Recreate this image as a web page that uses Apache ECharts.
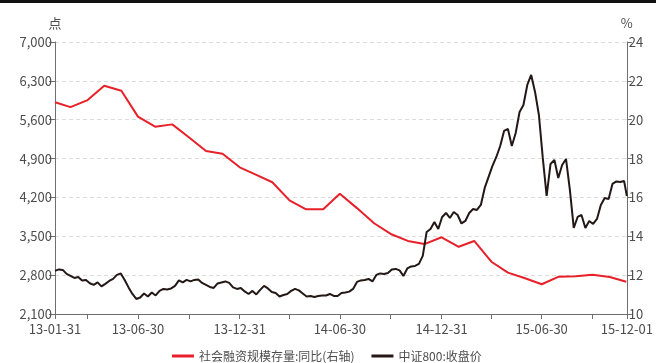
<!DOCTYPE html>
<html>
<head>
<meta charset="utf-8">
<script src="https://cdn.jsdelivr.net/npm/echarts@6/dist/echarts.min.js"></script>
<style>
  html, body { margin: 0; padding: 0; background: #fff; }
  #chart { width: 656px; height: 363px; }
</style>
</head>
<body>
<div id="chart"></div>
<script>
// 社会融资规模存量同比 (%), month-end values, right axis
const tsfDates = [
  '2013-01-31','2013-02-28','2013-03-31','2013-04-30','2013-05-31','2013-06-30',
  '2013-07-31','2013-08-31','2013-09-30','2013-10-31','2013-11-30','2013-12-31',
  '2014-01-31','2014-02-28','2014-03-31','2014-04-30','2014-05-31','2014-06-30',
  '2014-07-31','2014-08-31','2014-09-30','2014-10-31','2014-11-30','2014-12-31',
  '2015-01-31','2015-02-28','2015-03-31','2015-04-30','2015-05-31','2015-06-30',
  '2015-07-31','2015-08-31','2015-09-30','2015-10-31','2015-11-30'
];
const tsfYoY = [
  20.90, 20.65, 21.01, 21.75, 21.49, 20.16,
  19.64, 19.76, 19.10, 18.39, 18.25, 17.55,
  17.15, 16.78, 15.85, 15.39, 15.39, 16.19,
  15.45, 14.67, 14.12, 13.76, 13.60, 13.95,
  13.46, 13.76, 12.69, 12.13, 11.84, 11.53,
  11.92, 11.94, 12.02, 11.90, 11.66
];

// 中证800 closing level, weekly from 2013-01-31, last point on 2015-12-01
const csi800Start = '2013-01-31';
const csi800End = '2015-12-01';
const csi800Close = [
  2876, 2903, 2894, 2822, 2786, 2750, 2768, 2705, 2714, 2654,
  2624, 2669, 2597, 2642, 2696, 2732, 2804, 2831, 2714, 2579,
  2461, 2371, 2398, 2470, 2416, 2488, 2434, 2516, 2552, 2543,
  2561, 2606, 2705, 2669, 2714, 2687, 2714, 2723, 2660, 2624,
  2588, 2570, 2651, 2669, 2687, 2660, 2579, 2552, 2570, 2507,
  2461, 2516, 2452, 2534, 2606, 2561, 2497, 2479, 2416, 2443,
  2461, 2516, 2552, 2525, 2470, 2416, 2425, 2407, 2425, 2434,
  2434, 2461, 2425, 2425, 2479, 2488, 2503, 2552, 2678, 2705,
  2714, 2732, 2687, 2804, 2831, 2822, 2840, 2903, 2912, 2885,
  2786, 2921, 2957, 2966, 3002, 3146, 3578, 3632, 3758, 3632,
  3848, 3920, 3830, 3938, 3884, 3731, 3776, 3920, 3992, 3974,
  4064, 4371, 4569, 4767, 4929, 5127, 5397, 5433, 5127, 5361,
  5739, 5865, 6226, 6406, 6100, 5685, 4911, 4226, 4803, 4875,
  4551, 4785, 4893, 4335, 3650, 3848, 3884, 3650, 3776, 3722,
  3812, 4064, 4190, 4172, 4443, 4488, 4479, 4497, 4226
];

// x-axis ticks (quarter ends) and the subset that carries labels
const tickDates = [
  '2013-01-31','2013-03-31','2013-06-30','2013-09-30','2013-12-31',
  '2014-03-31','2014-06-30','2014-09-30','2014-12-31',
  '2015-03-31','2015-06-30','2015-09-30','2015-12-01'
];
const labelDates = [
  '2013-01-31','2013-06-30','2013-12-31','2014-06-30',
  '2014-12-31','2015-06-30','2015-12-01'
];

const leftTicks = { min: 2100, max: 7000, step: 700 };
const rightTicks = { min: 10, max: 24, step: 2 };

function toTime(s) {
  const p = s.split('-').map(Number);
  return Date.UTC(p[0], p[1] - 1, p[2]);
}
function fmtDate(t) {
  const d = new Date(t);
  const pad = n => (n < 10 ? '0' : '') + n;
  return pad(d.getUTCFullYear() % 100) + '-' + pad(d.getUTCMonth() + 1) + '-' + pad(d.getUTCDate());
}

const DAY = 86400000;
const t0 = toTime(csi800Start);
const csi800Data = csi800Close.map((v, i) =>
  [i === csi800Close.length - 1 ? toTime(csi800End) : t0 + i * 7 * DAY, v]);
const tsfData = tsfDates.map((d, i) => [toTime(d), tsfYoY[i]]);

const FONT = '"Noto Sans CJK SC", "Noto Sans", sans-serif';
const AXIS_COLOR = '#6e6e6e';
const TEXT_COLOR = '#4d4d4d';

const chart = echarts.init(document.getElementById('chart'), null, { renderer: 'canvas' });
chart.setOption({
  animation: false,
  backgroundColor: '#fff',
  textStyle: { fontFamily: FONT },
  graphic: [{
    type: 'rect', left: 0, top: 0,
    shape: { width: 656, height: 3 },
    style: { fill: '#111' }
  }],
  grid: { left: 55, right: 26, top: 42, bottom: 49 },
  legend: {
    left: 167, top: 345,
    icon: 'rect', itemWidth: 22, itemHeight: 3, itemGap: 17,
    textStyle: { fontFamily: FONT, fontSize: 12, color: TEXT_COLOR },
    data: ['社会融资规模存量:同比(右轴)', '中证800:收盘价']
  },
  xAxis: {
    type: 'value',
    min: toTime(csi800Start),
    max: toTime(csi800End),
    splitLine: { show: false },
    axisLine: { show: true, lineStyle: { color: AXIS_COLOR, width: 1 } },
    axisTick: {
      show: true, length: 5, inside: false,
      customValues: tickDates.map(toTime),
      lineStyle: { color: AXIS_COLOR }
    },
    axisLabel: {
      customValues: labelDates.map(toTime),
      formatter: v => fmtDate(v),
      margin: 9, fontSize: 13, color: TEXT_COLOR, fontFamily: FONT,
      showMinLabel: true, showMaxLabel: true, hideOverlap: false
    }
  },
  yAxis: [{
    type: 'value',
    position: 'left',
    name: '点',
    nameLocation: 'end',
    nameGap: 12,
    nameTextStyle: { fontSize: 13, color: TEXT_COLOR, fontFamily: FONT, align: 'center' },
    min: leftTicks.min, max: leftTicks.max, interval: leftTicks.step,
    axisLine: { show: true, lineStyle: { color: AXIS_COLOR } },
    axisTick: { show: true, length: 6, lineStyle: { color: AXIS_COLOR } },
    axisLabel: {
      margin: 3, fontSize: 13, color: TEXT_COLOR, fontFamily: FONT,
      formatter: v => v.toLocaleString('en-US')
    },
    splitLine: { show: true, lineStyle: { color: '#dcdcdc', type: [4, 3] } }
  }, {
    type: 'value',
    position: 'right',
    name: '%',
    nameLocation: 'end',
    nameGap: 12,
    nameTextStyle: { fontSize: 13, color: TEXT_COLOR, fontFamily: FONT, align: 'center' },
    min: rightTicks.min, max: rightTicks.max, interval: rightTicks.step,
    axisLine: { show: true, lineStyle: { color: AXIS_COLOR } },
    axisTick: { show: true, length: 5, lineStyle: { color: AXIS_COLOR } },
    axisLabel: { margin: 2, fontSize: 13, color: TEXT_COLOR, fontFamily: FONT },
    splitLine: { show: false }
  }],
  series: [{
    name: '社会融资规模存量:同比(右轴)',
    type: 'line',
    yAxisIndex: 1,
    data: tsfData,
    symbol: 'none',
    lineStyle: { color: '#e8202a', width: 2 },
    itemStyle: { color: '#e8202a' }
  }, {
    name: '中证800:收盘价',
    type: 'line',
    yAxisIndex: 0,
    data: csi800Data,
    symbol: 'none',
    lineStyle: { color: '#231815', width: 2 },
    itemStyle: { color: '#231815' }
  }]
});
</script>
</body>
</html>
